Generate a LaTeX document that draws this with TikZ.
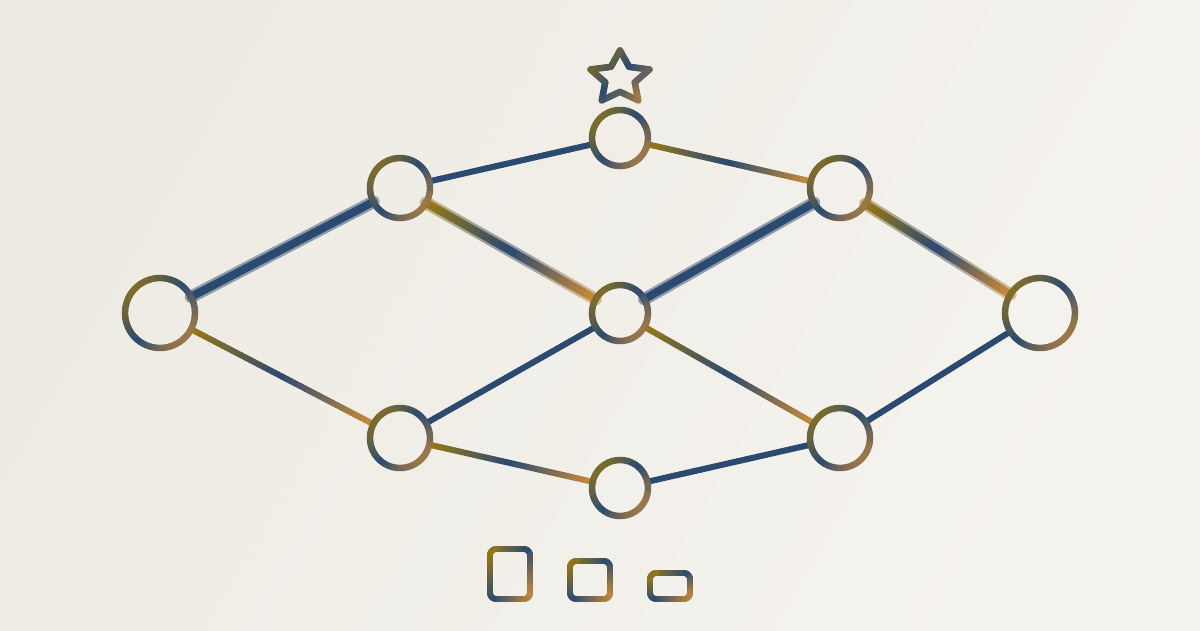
\documentclass[tikz,border=0pt]{standalone}
\usepackage{tikz}
\definecolor{ggold}{HTML}{9C7A12}
\definecolor{gblue}{HTML}{2B4A70}
\definecolor{gtan}{HTML}{C98A38}
\definecolor{gbg}{HTML}{F1EEE8}
\definecolor{bgA}{HTML}{EEEBE4}
\definecolor{bgB}{HTML}{F5F3EE}
\tikzset{gnode/.style={circle, inner sep=0pt, outer sep=0pt, draw=none}}
% one coloured piece, colour taken from bounding-box diagonal gradient
\newcommand\gseg[4]{%
  \pgfmathsetmacro\gmt{((((#1)+(#3))/2-\gBX)/\gBW+(((#2)+(#4))/2-\gBY)/\gBH)/2}%
  \ifdim\gmt pt<0.5pt
    \pgfmathtruncatemacro\gpc{max(0,min(100,200*\gmt))}%
    \colorlet{gc}{gblue!\gpc!ggold}%
  \else
    \pgfmathtruncatemacro\gpc{max(0,min(100,200*\gmt-100))}%
    \colorlet{gc}{gtan!\gpc!gblue}%
  \fi
  \draw[line width=\gLW pt, line cap=round, color=gc!\gF!gbg] (#1,#2) -- (#3,#4);%
}
\newcommand\gline[5]{%
  \foreach \gi in {1,...,#5}{%
    \pgfmathsetmacro\gpa{(\gi-1)/#5}%
    \pgfmathsetmacro\gpb{\gi/#5}%
    \pgfmathsetmacro\gua{(#1)+\gpa*((#3)-(#1))}%
    \pgfmathsetmacro\gva{(#2)+\gpa*((#4)-(#2))}%
    \pgfmathsetmacro\gub{(#1)+\gpb*((#3)-(#1))}%
    \pgfmathsetmacro\gvb{(#2)+\gpb*((#4)-(#2))}%
    \gseg{\gua}{\gva}{\gub}{\gvb}%
  }%
}
\newcommand\garc[6]{%
  \pgfmathsetmacro\gstep{((#5)-(#4))/(#6)}%
  \foreach \gi in {1,...,#6}{%
    \pgfmathsetmacro\gaa{(#4)+(\gi-1)*\gstep}%
    \pgfmathsetmacro\gab{(#4)+\gi*\gstep}%
    \pgfmathsetmacro\gua{(#1)+(#3)*cos(\gaa)}%
    \pgfmathsetmacro\gva{(#2)+(#3)*sin(\gaa)}%
    \pgfmathsetmacro\gub{(#1)+(#3)*cos(\gab)}%
    \pgfmathsetmacro\gvb{(#2)+(#3)*sin(\gab)}%
    \gseg{\gua}{\gva}{\gub}{\gvb}%
  }%
}
\newcommand\gedge[4]{%
  \path (#1) -- (#2) coordinate[pos=0] (gS) coordinate[pos=1] (gE);
  \path (gS); \pgfgetlastxy{\gtx}{\gty}
  \pgfmathsetmacro\gxa{\gtx}\pgfmathsetmacro\gya{-\gty}
  \path (gE); \pgfgetlastxy{\gtx}{\gty}
  \pgfmathsetmacro\gxb{\gtx}\pgfmathsetmacro\gyb{-\gty}
  \pgfmathsetmacro\gBX{min(\gxa,\gxb)}\pgfmathsetmacro\gBY{min(\gya,\gyb)}
  \pgfmathsetmacro\gBW{max(abs(\gxb-\gxa),0.001)}\pgfmathsetmacro\gBH{max(abs(\gyb-\gya),0.001)}
  \def\gLW{#3}\def\gF{#4}
  \gline{\gxa}{\gya}{\gxb}{\gyb}{40}
}
% ring: centre x, centre y, radius
\newcommand\gring[3]{%
  \pgfmathsetmacro\gBX{(#1)-(#3)}\pgfmathsetmacro\gBY{(#2)-(#3)}
  \pgfmathsetmacro\gBW{2*(#3)}\pgfmathsetmacro\gBH{2*(#3)}
  \def\gLW{6.4}\def\gF{100}
  \garc{#1}{#2}{#3}{0}{360}{72}
}
\newcommand\grect[5]{%
  \def\gBX{#1}\def\gBY{#2}
  \pgfmathsetmacro\gBW{(#3)-(#1)}\pgfmathsetmacro\gBH{(#4)-(#2)}
  \def\gLW{6}\def\gF{100}
  \gline{#1+#5}{#2}{#3-#5}{#2}{6}
  \garc{#3-#5}{#2+#5}{#5}{270}{360}{4}
  \gline{#3}{#2+#5}{#3}{#4-#5}{6}
  \garc{#3-#5}{#4-#5}{#5}{0}{90}{4}
  \gline{#3-#5}{#4}{#1+#5}{#4}{6}
  \garc{#1+#5}{#4-#5}{#5}{90}{180}{4}
  \gline{#1}{#4-#5}{#1}{#2+#5}{6}
  \garc{#1+#5}{#2+#5}{#5}{180}{270}{4}
}
\begin{document}
\begin{tikzpicture}[x=1pt,y=-1pt]
\useasboundingbox (0,0) rectangle (1200,630);
\shade[left color=bgA, right color=bgB, shading angle=60] (0,0) rectangle (1200,630);
% nodes (positions)
\node[gnode, minimum size=70pt] (A) at (160,313) {};
\node[gnode, minimum size=60pt] (B) at (400,188) {};
\node[gnode, minimum size=60pt] (C) at (400,438) {};
\node[gnode, minimum size=56pt] (D) at (620,138) {};
\node[gnode, minimum size=56pt] (E) at (620,313) {};
\node[gnode, minimum size=60pt] (F) at (840,188) {};
\node[gnode, minimum size=70pt] (G) at (1040,313) {};
\node[gnode, minimum size=56pt] (H) at (620,488) {};
\node[gnode, minimum size=60pt] (I) at (840,438) {};
% thick glowing edges
\gedge{A}{B}{12.5}{50}\gedge{A}{B}{8}{100}
\gedge{B}{E}{12.5}{50}\gedge{B}{E}{8}{100}
\gedge{E}{F}{12.5}{50}\gedge{E}{F}{8}{100}
\gedge{F}{G}{12.5}{50}\gedge{F}{G}{8}{100}
% thin edges
\gedge{A}{C}{6}{100}
\gedge{B}{D}{6}{100}
\gedge{D}{F}{6}{100}
\gedge{C}{E}{6}{100}
\gedge{C}{H}{6}{100}
\gedge{E}{I}{6}{100}
\gedge{H}{I}{6}{100}
\gedge{I}{G}{6}{100}
% rings
\gring{160}{313}{35}\gring{400}{188}{30}\gring{400}{438}{30}
\gring{620}{138}{28}\gring{620}{313}{28}\gring{840}{188}{30}
\gring{1040}{313}{35}\gring{620}{488}{28}\gring{840}{438}{30}
% star
\def\gBX{590.5}\def\gBY{50.5}\def\gBW{59}\def\gBH{50}
\def\gLW{6.5}\def\gF{100}
\foreach \k in {0,...,9}{
  \pgfmathsetmacro\sra{ifthenelse(mod(\k,2)==0,1,0.5)}
  \pgfmathsetmacro\srb{ifthenelse(mod(\k,2)==0,0.5,1)}
  \pgfmathsetmacro\saa{-90+36*\k}
  \pgfmathsetmacro\sab{-90+36*(\k+1)}
  \pgfmathsetmacro\sxa{620+31*\sra*cos(\saa)}
  \pgfmathsetmacro\sya{78+27.6*\sra*sin(\saa)}
  \pgfmathsetmacro\sxb{620+31*\srb*cos(\sab)}
  \pgfmathsetmacro\syb{78+27.6*\srb*sin(\sab)}
  \gline{\sxa}{\sya}{\sxb}{\syb}{6}
}
% small rounded rectangles
\grect{490}{549}{530}{599}{6}
\grect{570}{561}{610}{599}{6}
\grect{650}{573}{690}{599}{6}
\end{tikzpicture}
\end{document}
